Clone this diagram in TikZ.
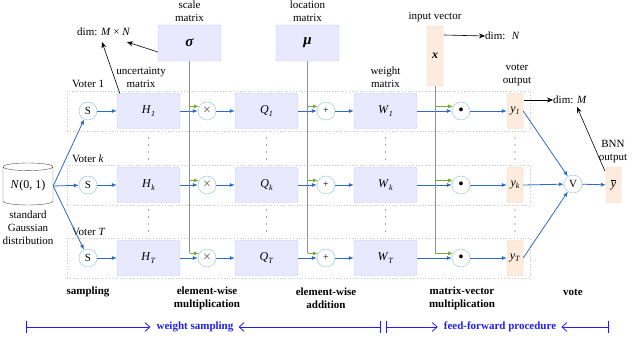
\documentclass[tikz,border=0pt]{standalone}
\usepackage{fontspec}
\setmainfont{Liberation Serif}
\usetikzlibrary{arrows.meta,shapes.geometric,calc}
\definecolor{bblue}{RGB}{45,105,205}
\definecolor{boxfill}{RGB}{232,232,255}
\definecolor{boxdraw}{RGB}{195,195,245}
\definecolor{cdraw}{RGB}{140,195,210}
\definecolor{ofill}{RGB}{253,236,222}
\definecolor{odraw}{RGB}{246,208,178}
\definecolor{ggreen}{RGB}{120,170,60}
\definecolor{abl}{RGB}{30,30,245}
\newcommand{\ssub}[2]{\textit{#1}\raisebox{-0.4ex}{\fontsize{8}{8}\selectfont\textit{#2}}}
\begin{document}
\begin{tikzpicture}[x=1pt,y=-1pt,font=\fontsize{11}{13}\selectfont,
  mbox/.style={draw=boxdraw,fill=boxfill,rounded corners=2pt,minimum width=63pt,minimum height=35pt,inner sep=0pt,font=\fontsize{12}{13}\selectfont},
  opnode/.style={circle,draw=cdraw,fill=white,minimum size=18pt,inner sep=0pt},
  obox/.style={draw=odraw,fill=ofill,rounded corners=2pt,minimum width=16pt,minimum height=35pt,inner sep=0pt,font=\fontsize{12}{13}\selectfont},
  voterbox/.style={draw=black!22,dotted,line width=0.8pt,minimum width=463pt,minimum height=40pt,inner sep=0pt},
  flow/.style={bblue,thick,-{Latex[length=5pt,width=4pt]}},
  feed/.style={ggreen,thick,-{Latex[length=5pt,width=4pt]}},
  note/.style={-{Stealth[length=6pt,width=5pt]},black,semithick},
  lbl/.style={align=center,inner sep=0pt},
  blbl/.style={align=center,inner sep=0pt,font=\fontsize{11}{13}\selectfont\bfseries},
  dotcol/.style={fill=black!70,circle,inner sep=0pt,minimum size=1.4pt},
  span/.style={abl,thick}]
\useasboundingbox (0,0) rectangle (640,352);

% voter boxes and rows
\foreach \r/\yy in {1/111,k/185,T/258}{
  \node[voterbox] (VB-\r) at (298.5,\yy) {};
  \node[opnode] (S-\r) at (88,\yy) {S};
  \node[mbox] (H-\r) at (148.5,\yy) {\ssub{H}{\r}};
  \node[opnode] (M-\r) at (207,\yy) {\textcolor{black!65}{\fontsize{14}{14}\selectfont ×}};
  \node[opnode] (A-\r) at (326,\yy) {\fontsize{10}{10}\selectfont +};
  \node[mbox] (Q-\r) at (266.5,\yy) {\ssub{Q}{\r}};
  \node[mbox] (W-\r) at (385.5,\yy) {\ssub{W}{\r}};
  \node[opnode] (D-\r) at (461,\yy) {\fontsize{14}{14}\selectfont\textbf{•}};
  \node[obox] (Y-\r) at (515,\yy) {\ssub{y}{\r}};
  \draw[flow] (S-\r) -- (H-\r);
  \draw[flow] (H-\r) -- (M-\r);
  \draw[flow] (M-\r) -- (Q-\r);
  \draw[flow] (Q-\r) -- (A-\r);
  \draw[flow] (A-\r) -- (W-\r);
  \draw[flow] (W-\r) -- (D-\r);
  \draw[flow] (D-\r) -- (Y-\r);
}
\node[lbl,anchor=west] (v1) at (72,84) {Voter 1};
\node[lbl,anchor=west] (vk) at (72,159) {Voter \textit{k}};
\node[lbl,anchor=west] (vT) at (72,232) {Voter \textit{T}};

% vertical dots
\foreach \xx in {148.5,266.5,385.5,515}{
  \foreach \yy in {138,145,152,159,210,217,224,231}{
    \node[dotcol] at (\xx,\yy) {};
  }
}

% parameter boxes
\node[mbox,minimum height=36pt,font=\fontsize{15}{15}\selectfont] (sig) at (189.5,43) {\textbf{\textit{σ}}};
\node[mbox,minimum height=36pt,font=\fontsize{15}{15}\selectfont] (mu) at (307.5,43) {\textbf{\textit{μ}}};
\node[obox,minimum height=60pt] (xv) at (435,56) {\textbf{\textit{x}}};
\node[lbl] (sigl) at (189.5,11) {scale\\matrix};
\node[lbl] (mul) at (307.5,11) {location\\matrix};
\node[lbl] (xvl) at (435,17) {input vector};
\node[lbl] (Hl) at (141,77) {uncertainty\\matrix};
\node[lbl] (Wl) at (385.5,77) {weight\\matrix};
\node[lbl] (Yl) at (517,75) {voter\\output};

% green feeds
\draw[ggreen,thick] (sig.south) -- (sig.south |- M-T.150);
\draw[feed] (sig.south |- M-T.150) -- (M-T.150);
\draw[feed] (sig.south |- M-1.150) -- (M-1.150);
\draw[feed] (sig.south |- M-k.150) -- (M-k.150);
\draw[ggreen,thick] (mu.south) -- (mu.south |- A-T.150);
\draw[feed] (mu.south |- A-T.150) -- (A-T.150);
\draw[feed] (mu.south |- A-1.150) -- (A-1.150);
\draw[feed] (mu.south |- A-k.150) -- (A-k.150);
\draw[ggreen,thick] (xv.south) -- (xv.south |- D-T.150);
\draw[feed] (xv.south |- D-T.150) -- (D-T.150);
\draw[feed] (xv.south |- D-1.150) -- (D-1.150);
\draw[feed] (xv.south |- D-k.150) -- (D-k.150);

% dimension notes
\node[lbl,anchor=west] (dMN) at (77,32) {dim: \textit{M} × \textit{N}};
\draw[note] ($(H-1.north west)+(3,0)$) -- (102,42);
\draw[note] (sig.west |- 0,52) -- (127,42);
\node[lbl,anchor=west] (dN) at (485,36) {dim: \ \textit{N}};
\draw[note] (444,35) -- (dN.west);
\node[lbl,anchor=west] (dM) at (553,100) {dim: \textit{M}};
\draw[note] (524,100) -- (dM.west);

% gaussian source
\node[cylinder,shape border rotate=90,aspect=0.22,draw=black!70,minimum width=50pt,minimum height=42pt,inner sep=0pt,font=\fontsize{12}{13}\selectfont] (db) at (28,186) {\textit{N}(0, 1)};
\node[lbl] (dbl) at (28,228) {standard\\Gaussian\\distribution};
\draw[flow] (db.east) -- (S-1);
\draw[flow] (db.east) -- (S-k);
\draw[flow] (db.east) -- (S-T);

% vote
\node[opnode] (V) at (573,184) {V};
\node[obox,minimum width=15pt,minimum height=36pt] (yb) at (613.5,185) {$\overline{\textit{y}}$};
\node[lbl] (ybl) at (613,152) {BNN\\output};
\draw[flow] (Y-1.east) -- (V);
\draw[flow] (Y-k.east) -- (V);
\draw[flow] (Y-T.east) -- (V);
\draw[flow] (V) -- (yb);
\draw[note] ($(yb.north west)+(-1,4)$) -- (577,107);

% stage labels
\node[blbl] (l1) at (88,292) {sampling};
\node[blbl] (l2) at (207,298) {element-wise\\multiplication};
\node[blbl] (l3) at (326,298) {element-wise\\addition};
\node[blbl] (l4) at (462,298) {matrix-vector\\multiplication};
\node[blbl] (l5) at (573,292) {vote};

% spans
\node[blbl,text=abl] (ws) at (195,327) {weight sampling};
\node[blbl,text=abl] (ff) at (500,327) {feed-forward procedure};
\coordinate (b0) at (26,327);
\coordinate (b1) at (381,327);
\coordinate (b2) at (386,327);
\coordinate (b3) at (609,327);
\draw[span,{Bar[width=12pt]}-{Straight Barb[length=5pt,width=9pt]}] (b0) -- ($(ws.west)+(-6,0)$);
\draw[span,{Bar[width=12pt]}-{Straight Barb[length=5pt,width=9pt]}] (b1) -- ($(ws.east)+(5,0)$);
\draw[span,{Bar[width=12pt]}-{Straight Barb[length=5pt,width=9pt]}] (b2) -- ($(ff.west)+(-6,0)$);
\draw[span,{Bar[width=12pt]}-{Straight Barb[length=5pt,width=9pt]}] (b3) -- ($(ff.east)+(5,0)$);
\end{tikzpicture}
\end{document}
